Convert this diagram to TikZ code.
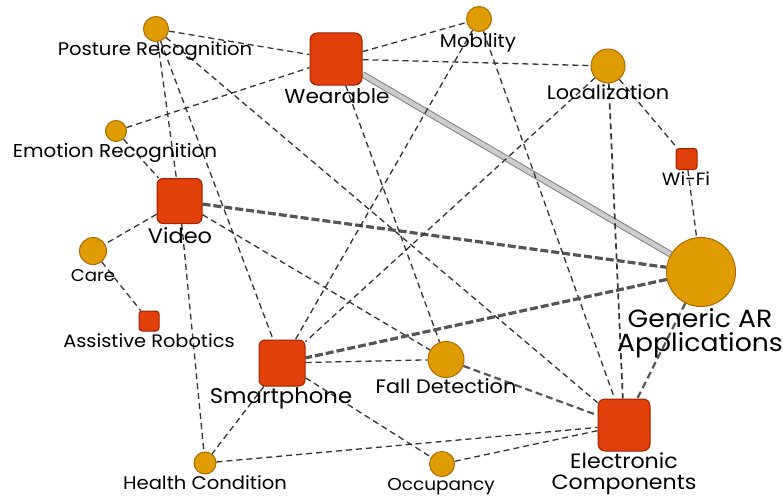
\documentclass[tikz,border=0pt]{standalone}
\usepackage{fontspec}
\setmainfont{Poppins}[FakeStretch=1.07]
\usetikzlibrary{backgrounds}
\definecolor{goldfill}{HTML}{DE9C00}
\definecolor{goldline}{HTML}{B06A00}
\definecolor{redfill}{HTML}{E2400A}
\definecolor{redline}{HTML}{A02000}
\definecolor{edgecol}{HTML}{333333}
\definecolor{thickcol}{HTML}{555555}
\begin{document}
\begin{tikzpicture}[x=1pt,y=-1pt,
  circ/.style={circle, fill=goldfill, draw=goldline, line width=1pt, inner sep=0pt, minimum size=#1},
  sq/.style 2 args={rectangle, rounded corners=#2, fill=redfill, draw=redline, line width=1pt, inner sep=0pt, minimum size=#1},
  lbl/.style={anchor=base, inner sep=0pt, align=center, font=\fontsize{#1}{#1}\selectfont},
  conn/.style={draw=edgecol, dash pattern=on 6pt off 4pt, line width=1.3pt},
  medconn/.style={draw=thickcol, dash pattern=on 7pt off 4pt, line width=2.2pt},
  thickconn/.style={draw=thickcol, dash pattern=on 8pt off 3pt, line width=3.2pt},
  bandconn/.style={draw=gray, line width=1pt, double=black!20, double distance=4.5pt}]
\useasboundingbox (0,0) rectangle (783,495);
% nodes
\node[circ=25] (pos) at (156,29) {};
\node[sq={52}{7pt}] (wear) at (336,59) {};
\node[circ=25] (mob) at (479,19) {};
\node[circ=34] (loc) at (608,66) {};
\node[circ=21] (emo) at (116,131) {};
\node[sq={45}{6pt}] (video) at (179.5,201) {};
\node[sq={21}{3pt}] (wifi) at (686.5,159) {};
\node[circ=69] (gen) at (701,272) {};
\node[circ=27] (care) at (93,251) {};
\node[sq={20}{3pt}] (assist) at (149,321) {};
\node[sq={46}{6pt}] (smart) at (282,363) {};
\node[circ=36] (fall) at (446,359.5) {};
\node[sq={52}{7pt}] (elec) at (624,425) {};
\node[circ=22] (health) at (205,463) {};
\node[circ=25] (occ) at (442,464) {};
% labels
\node[lbl=18.3] (posL) at (155,56) {Posture Recognition};
\node[lbl=20.2] (wearL) at (337,103) {Wearable};
\node[lbl=18.5] (mobL) at (478,48) {Mobility};
\node[lbl=19.5] (locL) at (608,99) {Localization};
\node[lbl=18.6] (emoL) at (115,157) {Emotion Recognition};
\node[lbl=21] (videoL) at (180,243) {Video};
\node[lbl=17.8] (wifiL) at (686,185) {Wi-Fi};
\node[lbl=24.9] (genL) at (700,351) {Generic AR\\[-1pt]Applications};
\node[lbl=17] (careL) at (93,281) {Care};
\node[lbl=18.1] (assistL) at (149,347) {Assistive Robotics};
\node[lbl=21.3] (smartL) at (281,403) {Smartphone};
\node[lbl=19.5] (fallL) at (446,393) {Fall Detection};
\node[lbl=20.7] (elecL) at (624,489) {Electronic\\[0pt]Components};
\node[lbl=18.3] (healthL) at (205,489) {Health Condition};
\node[lbl=17.3] (occL) at (441,490) {Occupancy};
% connectors
\begin{scope}[on background layer]
\draw[conn] (pos) -- (wear);
\draw[conn] (pos) -- (video);
\draw[conn] (pos) -- (smart);
\draw[conn] (pos) -- (elec);
\draw[conn] (emo) -- (wear);
\draw[conn] (emo) -- (video);
\draw[thickconn] (video) -- (gen);
\draw[conn] (video) -- (care);
\draw[conn] (video) -- (health);
\draw[conn] (video) -- (fall);
\draw[conn] (care) -- (assist);
\draw[conn] (wear) -- (mob);
\draw[conn] (wear) -- (loc);
\draw[bandconn] (wear) -- (gen);
\draw[conn] (wear) -- (fall);
\draw[conn] (mob) -- (smart);
\draw[conn] (mob) -- (elec);
\draw[conn] (loc) -- (smart);
\draw[conn, line width=1.7pt] (loc) -- (elec);
\draw[conn] (loc) -- (wifi);
\draw[conn] (wifi) -- (gen);
\draw[thickconn] (gen) -- (smart);
\draw[medconn] (gen) -- (elec);
\draw[conn] (smart) -- (fall);
\draw[conn] (smart) -- (health);
\draw[conn] (smart) -- (occ);
\draw[medconn] (fall) -- (elec);
\draw[conn] (health) -- (elec);
\draw[conn] (occ) -- (elec);
\end{scope}
\end{tikzpicture}
\end{document}
